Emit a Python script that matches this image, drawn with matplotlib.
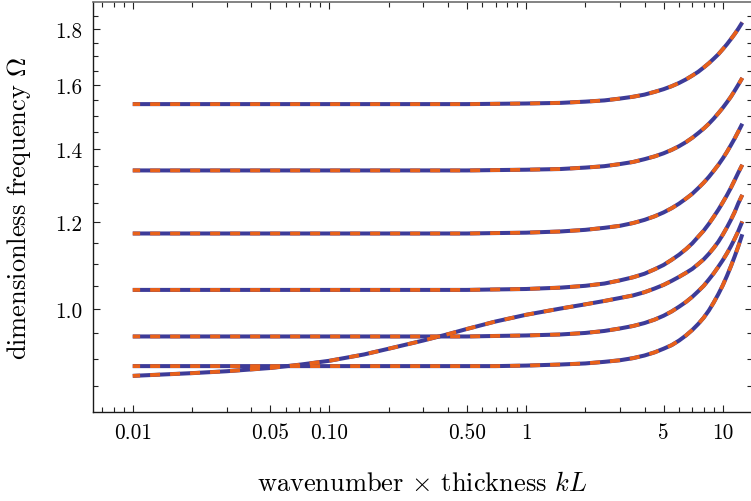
import matplotlib
matplotlib.use("Agg")
import matplotlib.pyplot as plt
from matplotlib.ticker import FixedLocator, FixedFormatter, NullFormatter

plt.rcParams["font.family"] = "cmr10"
plt.rcParams["mathtext.fontset"] = "cm"
plt.rcParams["axes.formatter.use_mathtext"] = True
plt.rcParams["lines.scale_dashes"] = False

# wavenumber x thickness
kL = [0.01, 0.02, 0.03, 0.05, 0.07, 0.1, 0.15, 0.2, 0.3, 0.4, 0.5, 0.7,
      1, 1.5, 2, 2.5, 3, 3.5, 4, 4.5, 5, 5.5, 6, 6.5, 7, 7.5, 8, 8.5, 9,
      9.5, 10, 10.5, 11, 11.5, 12, 12.57]

# dimensionless frequency of each branch
omega_1 = [1.538, 1.538, 1.538, 1.538, 1.538, 1.538, 1.538, 1.538, 1.538,
           1.538, 1.538, 1.539,
           1.540, 1.542, 1.546, 1.550, 1.556, 1.562, 1.569, 1.578, 1.587,
           1.597, 1.608, 1.620, 1.633, 1.646, 1.661, 1.676, 1.692, 1.708,
           1.726, 1.744, 1.763, 1.782, 1.802, 1.826]
omega_2 = [1.338, 1.338, 1.338, 1.338, 1.338, 1.338, 1.338, 1.338, 1.338,
           1.338, 1.338, 1.339,
           1.340, 1.342, 1.346, 1.350, 1.356, 1.362, 1.370, 1.378, 1.387,
           1.397, 1.408, 1.420, 1.433, 1.447, 1.461, 1.476, 1.492, 1.509,
           1.526, 1.544, 1.562, 1.582, 1.602, 1.625]
omega_3 = [1.172, 1.172, 1.172, 1.172, 1.172, 1.172, 1.172, 1.172, 1.172,
           1.172, 1.172, 1.173,
           1.174, 1.177, 1.181, 1.186, 1.191, 1.198, 1.206, 1.215, 1.225,
           1.236, 1.248, 1.261, 1.274, 1.289, 1.304, 1.320, 1.337, 1.354,
           1.372, 1.391, 1.411, 1.431, 1.452, 1.476]
omega_4 = [1.041, 1.041, 1.041, 1.041, 1.041, 1.041, 1.041, 1.041, 1.041,
           1.041, 1.041, 1.042,
           1.043, 1.046, 1.050, 1.055, 1.062, 1.069, 1.077, 1.087, 1.097,
           1.109, 1.121, 1.134, 1.148, 1.164, 1.179, 1.196, 1.214, 1.232,
           1.251, 1.270, 1.290, 1.311, 1.332, 1.354]
omega_5 = [0.944, 0.944, 0.944, 0.944, 0.944, 0.944, 0.944, 0.944, 0.944,
           0.944, 0.944, 0.945,
           0.946, 0.948, 0.951, 0.955, 0.960, 0.965, 0.971, 0.978, 0.986,
           0.995, 1.005, 1.015, 1.026, 1.038, 1.050, 1.064, 1.078, 1.093,
           1.108, 1.124, 1.141, 1.159, 1.178, 1.202]
omega_6 = [0.887, 0.887, 0.887, 0.887, 0.887, 0.887, 0.887, 0.887, 0.887,
           0.887, 0.887, 0.887,
           0.888, 0.890, 0.892, 0.895, 0.898, 0.902, 0.907, 0.913, 0.920,
           0.927, 0.936, 0.946, 0.957, 0.969, 0.982, 0.997, 1.014, 1.032,
           1.051, 1.072, 1.094, 1.117, 1.141, 1.170]
omega_7 = [0.869, 0.874, 0.8775, 0.8835, 0.8895, 0.897, 0.909, 0.920, 0.936,
           0.9485, 0.959, 0.9742,
           0.988, 1.0011, 1.0099, 1.0171, 1.0235, 1.029, 1.036, 1.044, 1.052,
           1.061, 1.070, 1.079, 1.088, 1.099, 1.110, 1.123, 1.137, 1.152,
           1.169, 1.187, 1.206, 1.226, 1.249, 1.271]

branches = [omega_1, omega_2, omega_3, omega_4, omega_5, omega_6, omega_7]

x_major = [0.01, 0.05, 0.1, 0.5, 1, 5, 10]
x_major_labels = ["0.01", "0.05", "0.10", "0.50", "1", "5", "10"]
x_minor = [0.007, 0.008, 0.009, 0.02, 0.03, 0.04, 0.06, 0.07, 0.08, 0.09,
           0.2, 0.3, 0.4, 0.6, 0.7, 0.8, 0.9, 2, 3, 4, 6, 7, 8, 9]
y_major = [1.0, 1.2, 1.4, 1.6, 1.8]
y_major_labels = ["1.0", "1.2", "1.4", "1.6", "1.8"]
y_minor = [0.85, 0.9, 0.95, 1.05, 1.1, 1.15, 1.25, 1.3, 1.35, 1.45, 1.5,
           1.55, 1.65, 1.7, 1.75, 1.85]

W, H = 751, 502
fig = plt.figure(figsize=(W / 100, H / 100), dpi=100)
ax_left, ax_right, ax_bottom, ax_top = 93.3, 751.5, 412.7, 3.0
ax = fig.add_axes([ax_left / W, 1 - ax_bottom / H,
                   (ax_right - ax_left) / W, (ax_bottom - ax_top) / H])
ax.set_xscale("log")
ax.set_yscale("log")
ax.set_xlim(0.0063, 14.0)
ax.set_ylim(0.806, 1.906)

blue = "#3d3b98"
orange = "#e8611a"
for om in branches:
    ax.plot(kL, om, color=blue, lw=2.9, solid_capstyle="butt",
            solid_joinstyle="round", zorder=2)
    ax.plot(kL, om, color=orange, lw=2.7, ls=(1.9, (7.2, 7.2)),
            dash_capstyle="butt", dash_joinstyle="round", zorder=3)

ax.xaxis.set_major_locator(FixedLocator(x_major))
ax.xaxis.set_major_formatter(FixedFormatter(x_major_labels))
ax.xaxis.set_minor_locator(FixedLocator(x_minor))
ax.xaxis.set_minor_formatter(NullFormatter())
ax.yaxis.set_major_locator(FixedLocator(y_major))
ax.yaxis.set_major_formatter(FixedFormatter(y_major_labels))
ax.yaxis.set_minor_locator(FixedLocator(y_minor))
ax.yaxis.set_minor_formatter(NullFormatter())

ax.tick_params(which="both", direction="in", top=True, right=True,
               color="#222222", width=0.8)
ax.tick_params(which="major", length=5.3, labelsize=15.3, pad=8)
ax.tick_params(which="minor", length=3.6)

for side in ("left", "bottom"):
    ax.spines[side].set_color("#1a1a1a")
    ax.spines[side].set_linewidth(1.0)
for side in ("top", "right"):
    ax.spines[side].set_color("#6e6e6e")
    ax.spines[side].set_linewidth(1.2)

ax.set_xlabel(r"wavenumber $\times$ thickness $kL$", fontsize=19)
ax.xaxis.label.set_va("baseline")
ax.xaxis.set_label_coords(0.5, (ax_bottom - 491.5) / (ax_bottom - ax_top))
ax.set_ylabel(r"dimensionless frequency $\Omega$", fontsize=19)
ax.yaxis.set_label_coords((33.0 - ax_left) / (ax_right - ax_left), 0.5)

fig.savefig("out.png", dpi=100)
